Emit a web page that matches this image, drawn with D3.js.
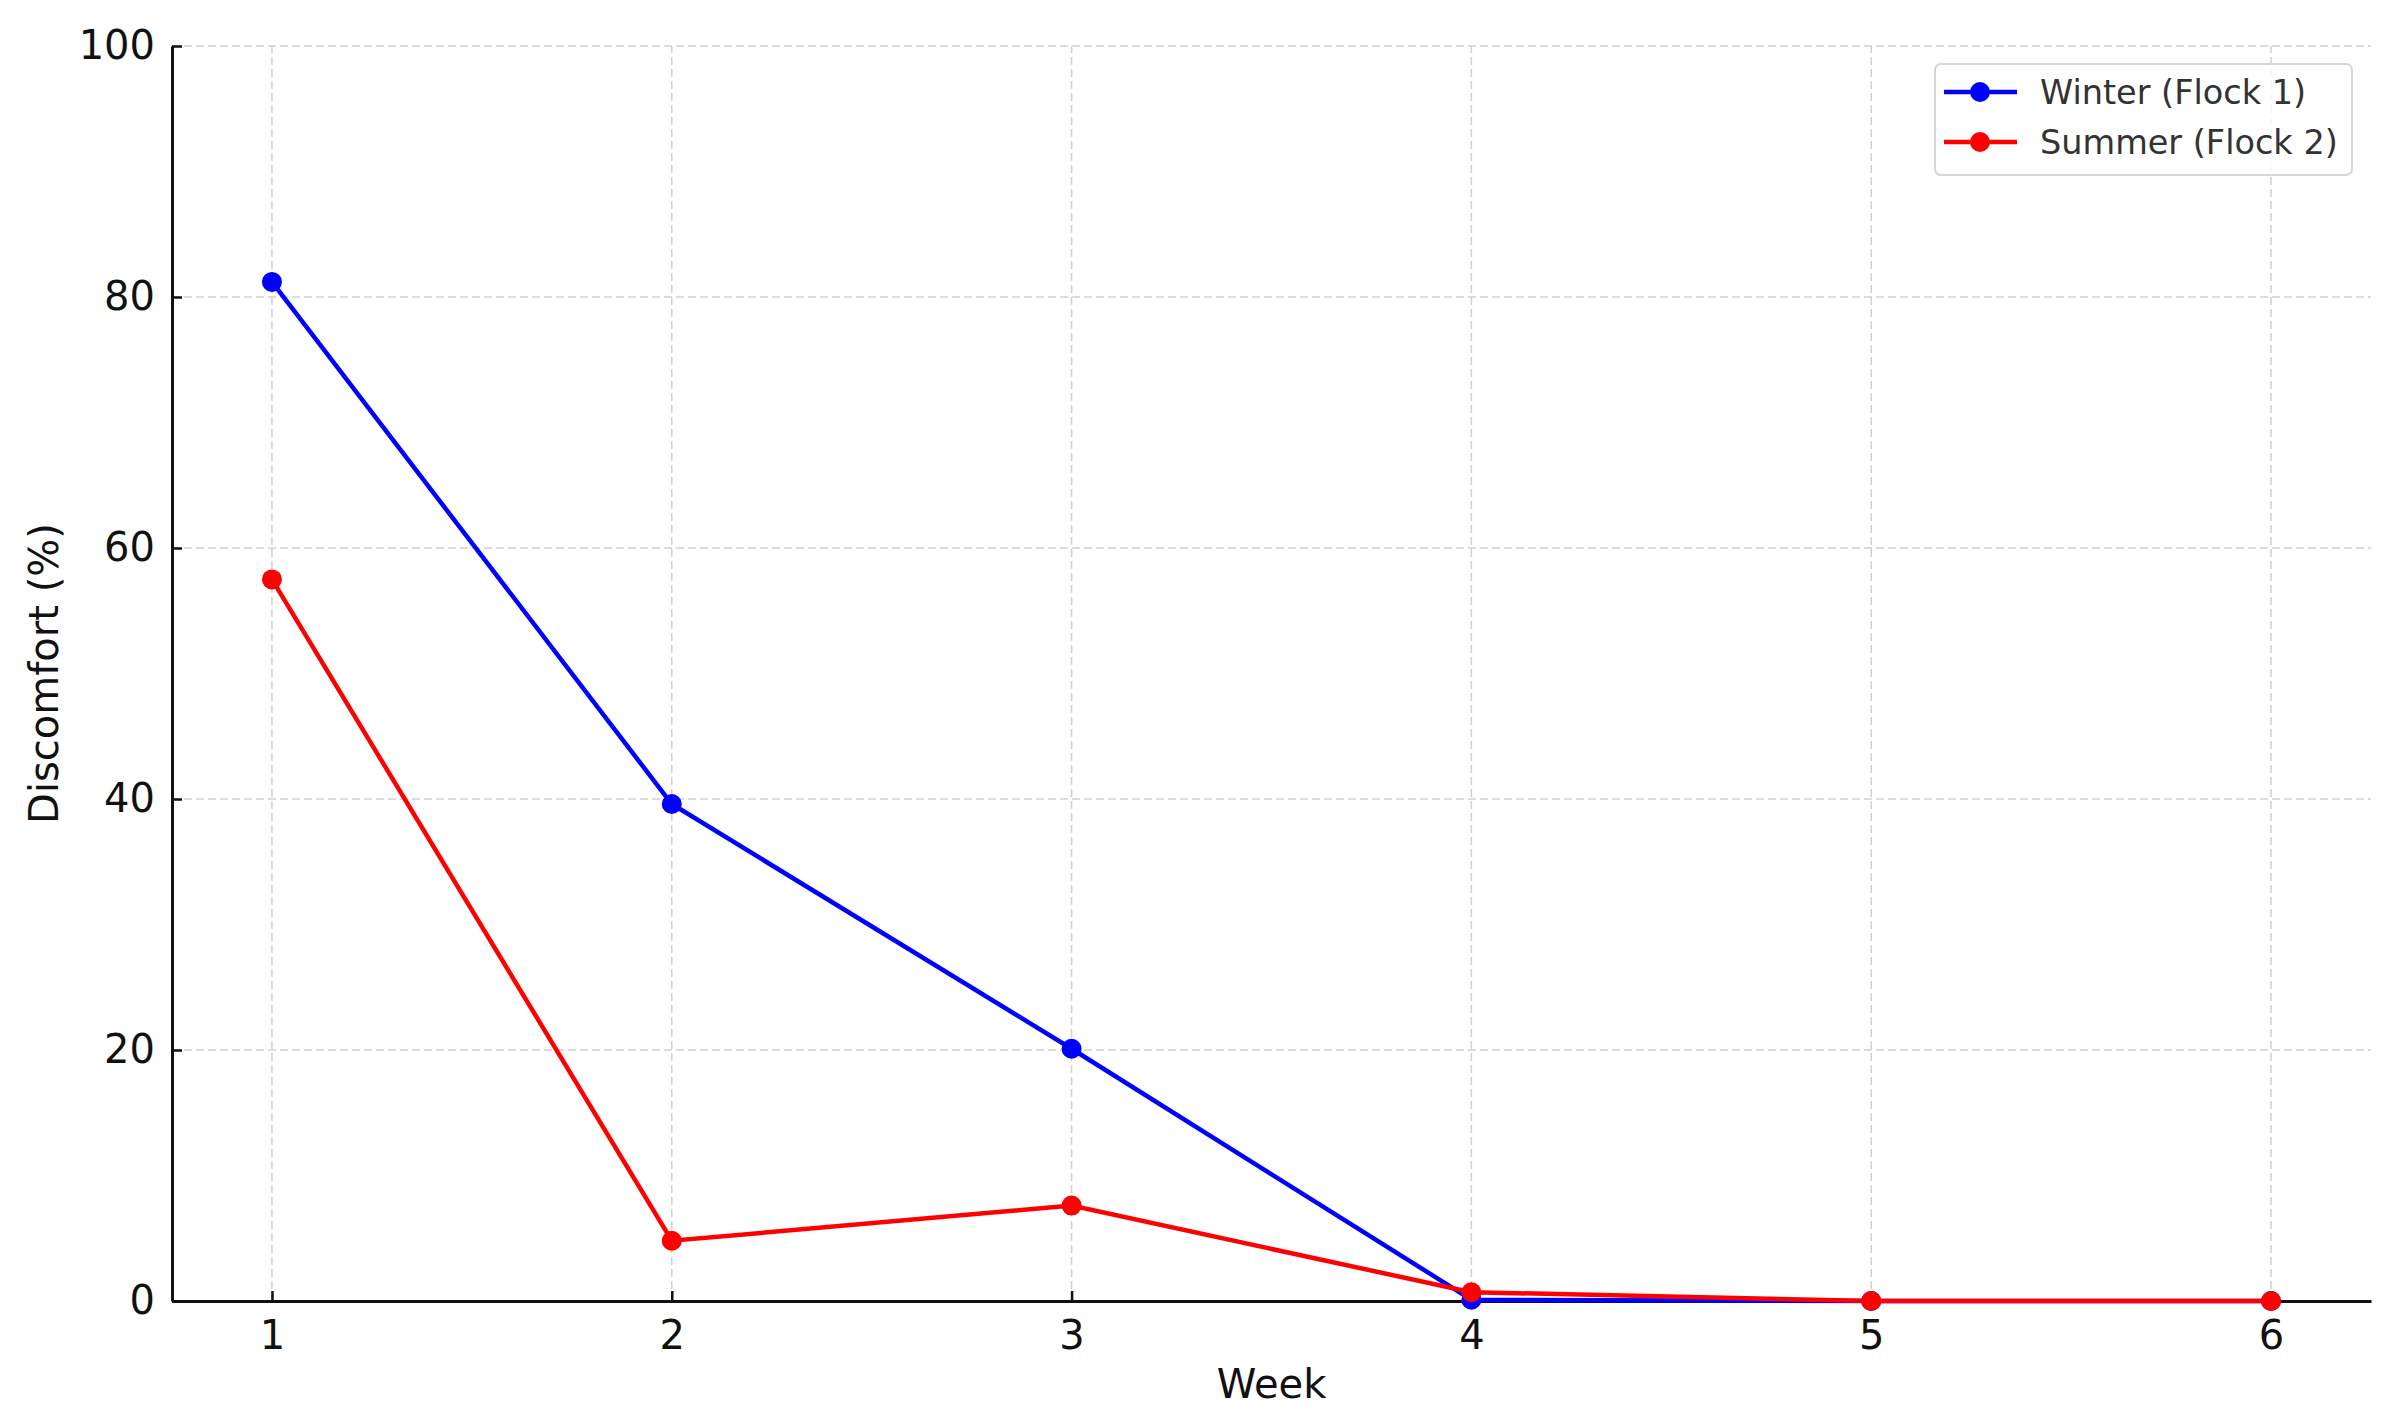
<!DOCTYPE html>
<html>
<head>
<meta charset="utf-8">
<script src="https://cdn.jsdelivr.net/npm/d3@7"></script>
<style>
  body { margin: 0; background: #fff; }
  text { font-family: "DejaVu Sans", sans-serif; }
</style>
</head>
<body>
<div id="chart"></div>
<script>
var weeks = [1, 2, 3, 4, 5, 6];
var winter = [81.2, 39.6, 20.1, 0.1, 0, 0];
var summer = [57.5, 4.8, 7.6, 0.7, 0, 0];
var seriesNames = ["Winter (Flock 1)", "Summer (Flock 2)"];
var seriesColors = ["#0000ff", "#ff0000"];
var yTicks = [0, 20, 40, 60, 80, 100];

var width = 2398, height = 1425;
var margin = {left: 172, right: 27, top: 46, bottom: 124};

var svg = d3.select("#chart").append("svg")
  .attr("width", width)
  .attr("height", height);

var x = d3.scaleLinear().domain([0.75, 6.25]).range([margin.left, width - margin.right]);
var y = d3.scaleLinear().domain([0, 100]).range([height - margin.bottom, margin.top]);

// grid
var grid = svg.append("g");
grid.selectAll(".gx").data(weeks).enter().append("line")
  .attr("x1", function(d) { return x(d); }).attr("x2", function(d) { return x(d); })
  .attr("y1", y(0)).attr("y2", y(100))
  .attr("stroke", "#d0d0d0").attr("stroke-width", 1.5).attr("stroke-dasharray", "8,4");
grid.selectAll(".gy").data(yTicks).enter().append("line")
  .attr("x1", x(0.75)).attr("x2", x(6.25))
  .attr("y1", function(d) { return y(d); }).attr("y2", function(d) { return y(d); })
  .attr("stroke", "#d0d0d0").attr("stroke-width", 1.5).attr("stroke-dasharray", "8,4");

// axes
var xAxis = svg.append("g")
  .attr("transform", "translate(0," + y(0) + ")")
  .call(d3.axisBottom(x).tickValues(weeks).tickFormat(d3.format("d")).tickSizeInner(-10).tickSizeOuter(0).tickPadding(20));
var yAxis = svg.append("g")
  .attr("transform", "translate(" + x(0.75) + ",0)")
  .call(d3.axisLeft(y).tickValues(yTicks).tickSizeInner(-10).tickSizeOuter(0).tickPadding(17));

[xAxis, yAxis].forEach(function(a) {
  a.select(".domain").attr("stroke", "#111").attr("stroke-width", 3);
  a.selectAll(".tick line").attr("stroke", "#111").attr("stroke-width", 2.5);
  a.selectAll(".tick text").attr("font-size", 40).attr("fill", "#111")
    .style("font-family", "DejaVu Sans, sans-serif");
});
xAxis.selectAll(".tick text").attr("dy", "0.71em");

svg.append("text")
  .attr("x", (x(0.75) + x(6.25)) / 2).attr("y", 1398)
  .attr("text-anchor", "middle").attr("font-size", 40).attr("fill", "#111")
  .text("Week");

svg.append("text")
  .attr("transform", "translate(58," + ((y(0) + y(100)) / 2) + ") rotate(-90)")
  .attr("text-anchor", "middle").attr("font-size", 40).attr("fill", "#111")
  .text("Discomfort (%)");

// lines
var data = [winter, summer];
var line = d3.line()
  .x(function(d, i) { return x(weeks[i]); })
  .y(function(d) { return y(d); });

data.forEach(function(vals, k) {
  svg.append("path")
    .datum(vals)
    .attr("d", line)
    .attr("fill", "none")
    .attr("stroke", seriesColors[k])
    .attr("stroke-width", 4.5);
  svg.selectAll(".pt" + k).data(vals).enter().append("circle")
    .attr("cx", function(d, i) { return x(weeks[i]); })
    .attr("cy", function(d) { return y(d); })
    .attr("r", 10)
    .attr("fill", seriesColors[k]);
});

// legend
var legend = svg.append("g");
legend.append("rect")
  .attr("x", 1935).attr("y", 64).attr("width", 417).attr("height", 111)
  .attr("rx", 6).attr("fill", "#fff").attr("fill-opacity", 0.8)
  .attr("stroke", "#d6d6d6").attr("stroke-width", 2);

seriesNames.forEach(function(name, k) {
  var cy = 92 + k * 50;
  legend.append("line")
    .attr("x1", 1944).attr("x2", 2017).attr("y1", cy).attr("y2", cy)
    .attr("stroke", seriesColors[k]).attr("stroke-width", 4.5);
  legend.append("circle")
    .attr("cx", 1980).attr("cy", cy).attr("r", 10).attr("fill", seriesColors[k]);
  legend.append("text")
    .attr("x", 2040).attr("y", cy).attr("dy", "0.35em")
    .attr("font-size", 33.5).attr("fill", "#333")
    .text(name);
});
</script>
</body>
</html>
